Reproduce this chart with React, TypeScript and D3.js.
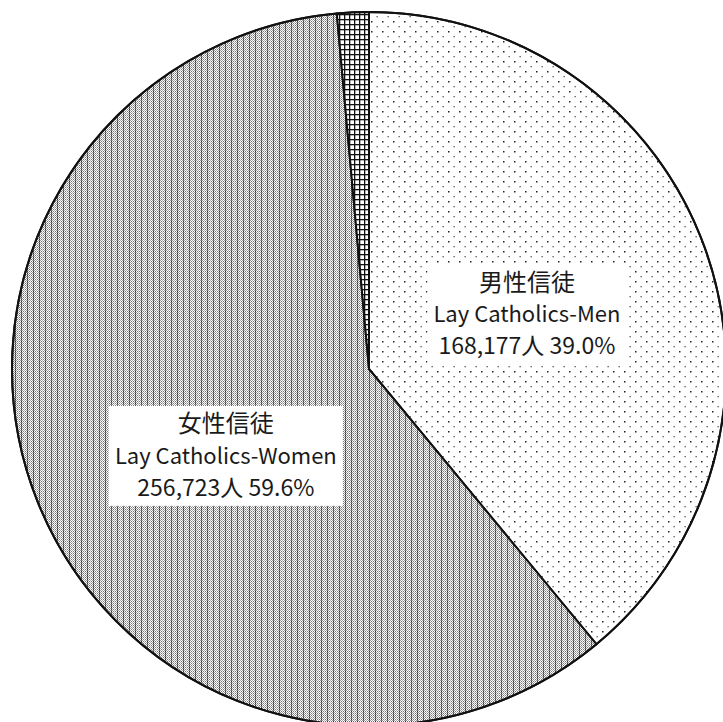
import React, { useEffect, useRef } from 'react';
import * as d3 from 'd3';

// slice data, clockwise from 12 o'clock
const categories = ['男性信徒', '女性信徒', 'その他'];
const englishNames = ['Lay Catholics-Men', 'Lay Catholics-Women', ''];
const counts = [168177, 256723, 6200];
const percentLabels = ['39.0%', '59.6%', ''];
const patternIds = ['pat-men', 'pat-women', 'pat-other'];

const W = 723;
const H = 722;

const App = () => {
  const svgRef = useRef<SVGSVGElement | null>(null);

  useEffect(() => {
    if (!svgRef.current) return;
    const svg = d3.select(svgRef.current);
    svg.selectAll('*').remove();

    const cx = 369;
    const cy = 369;
    const radius = 357;

    // --- PATTERNS ---
    const defs = svg.append('defs');

    const men = defs.append('pattern').attr('id', 'pat-men')
      .attr('patternUnits', 'userSpaceOnUse').attr('width', 11).attr('height', 10);
    men.append('rect').attr('width', 11).attr('height', 10).attr('fill', '#fff');
    men.append('rect').attr('x', 2).attr('y', 2).attr('width', 1.5).attr('height', 1.5).attr('fill', '#222');
    men.append('rect').attr('x', 7.5).attr('y', 7).attr('width', 1.3).attr('height', 1.3).attr('fill', '#555');

    // dense dotted texture with a darker column every few pixels
    const women = defs.append('pattern').attr('id', 'pat-women')
      .attr('patternUnits', 'userSpaceOnUse').attr('width', 6).attr('height', 2);
    women.append('rect').attr('width', 6).attr('height', 2).attr('fill', '#fff');
    women.append('rect').attr('x', 0).attr('y', 0).attr('width', 1).attr('height', 1).attr('fill', '#333');
    women.append('rect').attr('x', 2).attr('y', 0).attr('width', 1).attr('height', 1).attr('fill', '#777');
    women.append('rect').attr('x', 4).attr('y', 0).attr('width', 1).attr('height', 1).attr('fill', '#777');
    women.append('rect').attr('x', 1).attr('y', 1).attr('width', 1).attr('height', 1).attr('fill', '#999');
    women.append('rect').attr('x', 3).attr('y', 1).attr('width', 1).attr('height', 1).attr('fill', '#aaa');
    women.append('rect').attr('x', 5).attr('y', 1).attr('width', 1).attr('height', 1).attr('fill', '#999');
    women.append('rect').attr('x', 0).attr('y', 1).attr('width', 1).attr('height', 1).attr('fill', '#888');

    const other = defs.append('pattern').attr('id', 'pat-other')
      .attr('patternUnits', 'userSpaceOnUse').attr('width', 5).attr('height', 5);
    other.append('rect').attr('width', 5).attr('height', 5).attr('fill', '#fff');
    other.append('rect').attr('x', 0).attr('y', 0).attr('width', 1.3).attr('height', 5).attr('fill', '#111');
    other.append('rect').attr('x', 0).attr('y', 0).attr('width', 5).attr('height', 1.3).attr('fill', '#111');

    const data = categories.map((c, i) => ({
      name: c, en: englishNames[i], value: counts[i], pct: percentLabels[i], pattern: patternIds[i],
    }));

    const pie = d3.pie<any>().sort(null).value(d => d.value);
    const arcs = pie(data);
    const arc = d3.arc<any>().innerRadius(0).outerRadius(radius);

    const g = svg.append('g').attr('transform', `translate(${cx},${cy})`);

    g.selectAll('path.slice')
      .data(arcs)
      .enter()
      .append('path')
      .attr('class', 'slice')
      .attr('d', arc)
      .attr('fill', d => `url(#${d.data.pattern})`)
      .attr('stroke', '#111')
      .attr('stroke-width', 2)
      .attr('stroke-linejoin', 'round');

    // --- LABELS ---
    const labelArc = d3.arc<any>().innerRadius(radius * 0.47).outerRadius(radius * 0.47);
    const nudge: Record<string, [number, number]> = {
      '男性信徒': [0, 2],
      '女性信徒': [12, 23],
    };
    const lineGap = 32;

    arcs.filter(d => d.data.en).forEach(d => {
      const [lx0, ly0] = labelArc.centroid(d);
      const [nx, ny] = nudge[d.data.name] || [0, 0];
      const lg = g.append('g').attr('transform', `translate(${lx0 + nx},${ly0 + ny})`);
      const lines = [d.data.name, d.data.en, `${d3.format(',')(d.data.value)}人 ${d.data.pct}`];
      const bg = lg.append('rect').attr('fill', '#fff');
      const texts = lg.selectAll('text')
        .data(lines)
        .enter()
        .append('text')
        .attr('x', 0)
        .attr('y', (_, i) => (i - 1) * lineGap)
        .attr('dy', '0.36em')
        .attr('text-anchor', 'middle')
        .attr('font-family', '"Noto Sans CJK JP", "Noto Sans", sans-serif')
        .attr('font-size', (_, i) => (i === 0 ? 24 : i === 2 ? 23 : 22))
        .attr('fill', '#1a1a1a')
        .text(t => t);
      let maxW = 0;
      texts.each(function () {
        maxW = Math.max(maxW, (this as SVGTextElement).getComputedTextLength());
      });
      const bw = maxW + 12;
      const bh = lineGap * 3 + 4;
      bg.attr('x', -bw / 2).attr('y', -bh / 2).attr('width', bw).attr('height', bh);
    });

    // outer ring
    g.append('circle').attr('r', radius).attr('fill', 'none').attr('stroke', '#111').attr('stroke-width', 2);
  }, []);

  return (
    <div style={{ position: 'fixed', left: 0, top: 0, width: W, height: H, background: '#fff' }}>
      <svg ref={svgRef} width={W} height={H} style={{ display: 'block' }} />
    </div>
  );
};

export default App;
